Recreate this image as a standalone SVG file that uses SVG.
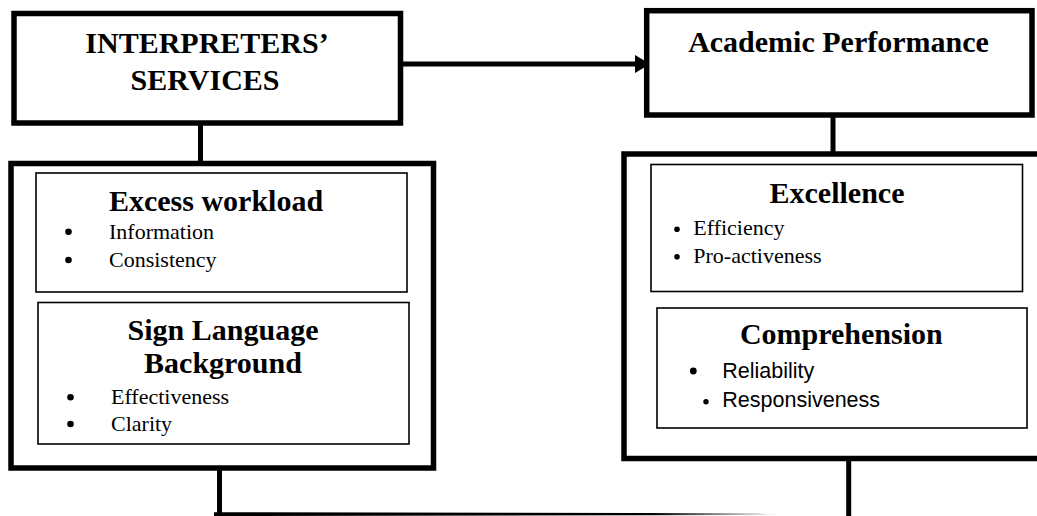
<svg xmlns="http://www.w3.org/2000/svg" width="1037" height="516" viewBox="0 0 1037 516">
<style>
.thick{fill:#fff;stroke:#000;stroke-width:5.5}
.thin{fill:#fff;stroke:#000;stroke-width:1.6}
.h{font-family:"Liberation Serif","Times New Roman",serif;font-weight:bold;font-size:30px;fill:#000;text-anchor:middle}
.b{font-family:"Liberation Serif","Times New Roman",serif;font-size:22px;fill:#000}
.s{font-family:"Liberation Sans",Arial,sans-serif;font-size:21.5px;fill:#000}
.ln{stroke:#000;stroke-width:5;fill:none}
</style>
<defs>
<marker id="ah" viewBox="0 0 10 12" refX="10" refY="6" markerWidth="3" markerHeight="3.6" orient="auto" markerUnits="strokeWidth">
<path d="M0,0 L10,6 L0,12 z" fill="#000"/>
</marker>
<linearGradient id="fade" x1="214" y1="0" x2="778" y2="0" gradientUnits="userSpaceOnUse">
<stop offset="0" stop-color="#000"/>
<stop offset="0.78" stop-color="#000"/>
<stop offset="1" stop-color="#fff"/>
</linearGradient>
</defs>
<rect width="1037" height="516" fill="#fff"/>
<g id="connectors">
<line class="ln" x1="403" y1="64" x2="650" y2="64" marker-end="url(#ah)"/>
<line class="ln" x1="200.5" y1="125" x2="200.5" y2="163"/>
<line class="ln" x1="833" y1="117" x2="833" y2="159" stroke-width="4.5"/>
<line class="ln" x1="219.5" y1="465" x2="219.5" y2="514"/>
<line class="ln" x1="848.7" y1="454" x2="848.7" y2="516"/>
<polygon points="214,512.2 778,513.3 778,515 214,516" fill="url(#fade)"/>
</g>
<g id="interpreters-services">
<rect class="thick" x="14" y="13.5" width="386.5" height="109.5"/>
<text class="h" x="207" y="53.3">INTERPRETERS’</text>
<text class="h" x="205" y="90">SERVICES</text>
</g>
<g id="academic-performance">
<rect class="thick" x="646.7" y="10.7" width="385.3" height="104.3" stroke-width="6"/>
<text class="h" x="838.5" y="52">Academic Performance</text>
</g>
<g id="left-group">
<rect class="thick" x="11" y="163.5" width="422.5" height="304.5"/>
</g>
<g id="excess-workload">
<rect class="thin" x="36" y="173" width="371" height="119"/>
<text class="h" x="216" y="210.5">Excess workload</text>
<circle cx="68.5" cy="231.7" r="3.3"/>
<text class="b" x="109" y="239.3">Information</text>
<circle cx="68.5" cy="260" r="3.3"/>
<text class="b" x="109" y="267.3">Consistency</text>
</g>
<g id="sign-language-background">
<rect class="thin" x="38" y="302.5" width="371" height="141.5"/>
<text class="h" x="223" y="340">Sign Language</text>
<text class="h" x="223" y="372.7">Background</text>
<circle cx="70.5" cy="397.3" r="3.3"/>
<text class="b" x="111" y="404">Effectiveness</text>
<circle cx="70.5" cy="424" r="3.3"/>
<text class="b" x="111" y="430.5">Clarity</text>
</g>
<g id="right-group">
<rect class="thick" x="624" y="154" width="430" height="304.5"/>
</g>
<g id="excellence">
<rect class="thin" x="651" y="164.5" width="371.5" height="127"/>
<text class="h" x="837" y="202.7">Excellence</text>
<circle cx="677" cy="229.3" r="2.8"/>
<text class="b" x="693.3" y="235">Efficiency</text>
<circle cx="677" cy="256.7" r="2.8"/>
<text class="b" x="693.3" y="262.7">Pro-activeness</text>
</g>
<g id="comprehension">
<rect class="thin" x="657" y="308" width="370" height="120"/>
<text class="h" x="841.3" y="344">Comprehension</text>
<circle cx="693.3" cy="371" r="3.4"/>
<text class="s" x="722.3" y="378.3">Reliability</text>
<circle cx="706" cy="401.7" r="2.7"/>
<text class="s" x="722.3" y="406.7">Responsiveness</text>
</g>
</svg>
